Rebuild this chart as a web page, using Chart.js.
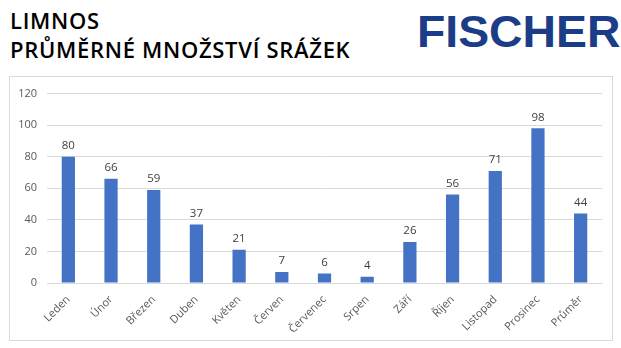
<!DOCTYPE html>
<html>
<head>
<meta charset="utf-8">
<script src="https://cdn.jsdelivr.net/npm/chart.js@4"></script>
<style>
  body { margin: 0; background: #fff; }
  #page { position: relative; width: 621px; height: 348px; overflow: hidden; font-family: 'Open Sans', sans-serif; }
  .title { position: absolute; left: 10px; font-size: 22px; font-weight: 600; color: #000; line-height: 1; letter-spacing: 0.7px; }
  #logo { position: absolute; left: 417px; top: 9px; font-family: 'Liberation Sans', Arial, sans-serif; font-weight: 700; font-size: 45px; color: #1b3c87; line-height: 1; transform: scaleX(1.03); transform-origin: left top; }
  #box { position: absolute; left: 9px; top: 76px; width: 602px; height: 263px; border: 1px solid #d9d9d9; }
</style>
</head>
<body>
<div id="page">
  <div class="title" style="top:9px">LIMNOS</div>
  <div class="title" style="top:38px">PRŮMĚRNÉ MNOŽSTVÍ SRÁŽEK</div>
  <div id="logo">FISCHER</div>
  <div id="box"><canvas id="srazky" width="602" height="263"></canvas></div>
</div>
<script>
// Průměrné měsíční srážky (mm)
const mesice = ['Leden', 'Únor', 'Březen', 'Duben', 'Květen', 'Červen', 'Červenec', 'Srpen', 'Září', 'Říjen', 'Listopad', 'Prosinec', 'Průměr'];
const srazky = [80, 66, 59, 37, 21, 7, 6, 4, 26, 56, 71, 98, 44];
const osaY = [0, 20, 40, 60, 80, 100, 120];

// popisky hodnot nad sloupci
const popiskyHodnot = {
  id: 'popiskyHodnot',
  afterDatasetsDraw(chart) {
    const ctx = chart.ctx;
    const meta = chart.getDatasetMeta(0);
    ctx.save();
    ctx.font = '11.5px "Open Sans", sans-serif';
    ctx.fillStyle = '#404040';
    ctx.textAlign = 'center';
    ctx.textBaseline = 'bottom';
    meta.data.forEach((bar, i) => {
      ctx.fillText(srazky[i], bar.x, bar.y - 5);
    });
    ctx.restore();
  }
};

new Chart(document.getElementById('srazky'), {
  type: 'bar',
  data: {
    labels: mesice,
    datasets: [{
      data: srazky,
      backgroundColor: '#4472c4',
      categoryPercentage: 1,
      barPercentage: 0.31,
    }],
  },
  options: {
    responsive: false,
    animation: false,
    layout: { padding: { top: 13, right: 10, left: 0, bottom: 0 } },
    plugins: {
      legend: { display: false },
      tooltip: { enabled: false },
    },
    scales: {
      y: {
        min: 0,
        max: 120,
        afterBuildTicks: (scale) => { scale.ticks = osaY.map((v) => ({ value: v })); },
        afterFit: (scale) => { scale.width = 37; },
        grid: { color: '#d9d9d9', drawTicks: false },
        border: { display: false },
        ticks: { color: '#595959', font: { size: 11, family: 'Open Sans' }, padding: 10 },
      },
      x: {
        afterFit: (scale) => { scale.height = 57; },
        grid: { display: false },
        border: { color: '#d9d9d9' },
        ticks: { color: '#595959', font: { size: 11, family: 'Open Sans' }, minRotation: 45, maxRotation: 45, padding: 2 },
      },
    },
  },
  plugins: [popiskyHodnot],
});
</script>
</body>
</html>
